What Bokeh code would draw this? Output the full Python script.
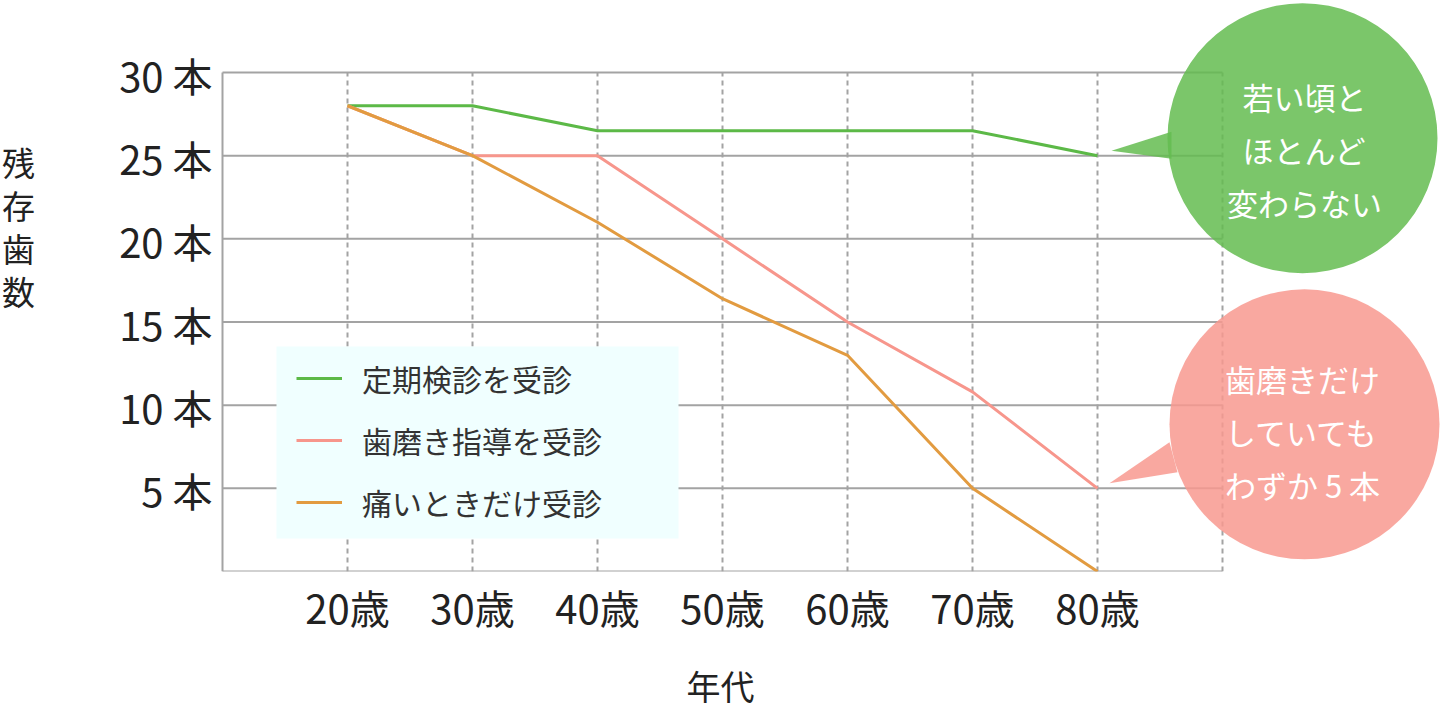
from bokeh.plotting import figure
from bokeh.models import Range1d, FixedTicker, Legend, LegendItem, BoxAnnotation
from bokeh.core.properties import value
from bokeh.embed import file_html
from bokeh.resources import INLINE

# ---------------- data ----------------
ages = [20, 30, 40, 50, 60, 70, 80]
age_labels = ["20歳", "30歳", "40歳", "50歳", "60歳", "70歳", "80歳"]
series_names = ["定期検診を受診", "歯磨き指導を受診", "痛いときだけ受診"]
regular_checkup = [28, 28, 26.5, 26.5, 26.5, 26.5, 25]
brushing_guidance = [28, 25, 25, 20, 15, 10.8, 5]
pain_only = [28, 25, 21, 16.4, 13, 5, 0]
y_ticks = [5, 10, 15, 20, 25, 30]
y_tick_labels = ["5 本", "10 本", "15 本", "20 本", "25 本", "30 本"]
y_title = "残存歯数"
x_title = "年代"
bubble_texts = ["若い頃と\nほとんど\n変わらない", "歯磨きだけ\nしていても\nわずか 5 本"]

# ---------------- layout ----------------
W, H = 1440, 710
GRID_LEFT_PX = 222          # pixel position of the grid box's left edge
BOTTOM = 139                # height of the x-axis panel
FRAME_H = H - BOTTOM
X_MIN, X_MAX = 10, 90       # grid box span (decades)
Y_MIN, Y_MAX = 0, 30
PX_X = 1000 / (X_MAX - X_MIN)   # px per data unit
PX_Y = 499 / (Y_MAX - Y_MIN)

FONT = "Noto Sans CJK JP"
GRID = "#a3a3a3"
TXT = "#222222"
colors = ["#5cb947", "#f7968c", "#e29b40"]
bubble_colors = ["#64bc50", "#f8998f"]

x_start = X_MIN - GRID_LEFT_PX / PX_X
x_end = X_MIN + (W - GRID_LEFT_PX) / PX_X
y_end = Y_MIN + FRAME_H / PX_Y

p = figure(frame_width=W, frame_height=FRAME_H, output_backend="svg", toolbar_location=None,
           x_range=Range1d(x_start, x_end), y_range=Range1d(Y_MIN, y_end),
           y_axis_location=None,
           min_border_left=0, min_border_right=0, min_border_top=0,
           min_border_bottom=BOTTOM, background_fill_color="white",
           border_fill_color="white", outline_line_color=None)
p.xgrid.visible = False
p.ygrid.visible = False


def px2x(px):
    return X_MIN + (px - GRID_LEFT_PX) / PX_X


def px2y(py):
    return Y_MIN + (FRAME_H - py) / PX_Y


# grid box
hlines = [Y_MIN] + y_ticks
p.segment(x0=[X_MIN] * len(hlines), x1=[X_MAX] * len(hlines), y0=hlines, y1=hlines,
          line_color=GRID, line_width=2)
p.segment(x0=[X_MIN], x1=[X_MIN], y0=[Y_MIN], y1=[Y_MAX], line_color=GRID, line_width=2)
vlines = ages + [X_MAX]
p.segment(x0=vlines, x1=vlines, y0=[Y_MIN] * len(vlines), y1=[Y_MAX] * len(vlines),
          line_color=GRID, line_width=2, line_dash="5 4")

# y tick labels and y title (left of the grid box)
p.text(x=[X_MIN] * len(y_ticks), y=y_ticks, text=y_tick_labels, x_offset=-10, y_offset=2,
       text_align="right", text_baseline="middle", text_font=value(FONT),
       text_font_size="40px", text_color=TXT)
p.text(x=[X_MIN], y=[px2y(226)], text=["\n".join(y_title)], x_offset=-204,
       text_align="center", text_baseline="middle", text_font=value(FONT),
       text_font_size="33px", text_color=TXT, text_line_height=0.9)

# legend background
p.add_layout(BoxAnnotation(left=px2x(276), right=px2x(678), top=px2y(346), bottom=px2y(538),
                           fill_color="#f0ffff", fill_alpha=1, line_color=None))

# series
renderers = []
for vals, c in zip([regular_checkup, brushing_guidance, pain_only], colors):
    r = p.line(ages, vals, line_color=c, line_width=3)
    renderers.append(r)


# speech bubbles
def off(x, y, dx, dy):
    return x + dx / PX_X, y + dy / PX_Y


anchors = [(ages[-1], regular_checkup[-1]), (ages[-1], brushing_guidance[-1])]
tails = [[(14, 5), (74, 24), (74, -3)], [(12, 5), (72, 46), (80, 16)]]
centers = [(205, 17.5), (207, 64)]
text_centers = [(207, 6), (205, 57)]
for (ax, ay), tail, cen, tc, bc, txt in zip(anchors, tails, centers, text_centers,
                                             bubble_colors, bubble_texts):
    pts = [off(ax, ay, dx, dy) for dx, dy in tail]
    p.patch([q[0] for q in pts], [q[1] for q in pts], fill_color=bc, fill_alpha=0.85,
            line_color=None)
    cx, cy = off(ax, ay, *cen)
    p.scatter([cx], [cy], size=270, marker="circle", fill_color=bc, fill_alpha=0.85,
              line_color=None)
    tx, ty = off(ax, ay, *tc)
    p.text([tx], [ty], text=[txt], text_color="white", text_font=value(FONT),
           text_font_size="31px", text_align="center", text_baseline="middle",
           text_line_height=1.18)

# x axis
p.xaxis.ticker = FixedTicker(ticks=ages)
p.xaxis.major_label_overrides = {a: l for a, l in zip(ages, age_labels)}
p.xaxis.axis_line_color = None
p.xaxis.major_tick_line_color = None
p.xaxis.minor_tick_line_color = None
p.xaxis.major_tick_in = 0
p.xaxis.major_tick_out = 0
p.xaxis.major_label_standoff = 6
p.xaxis.major_label_text_font = FONT
p.xaxis.major_label_text_font_size = "40px"
p.xaxis.major_label_text_color = TXT
p.xaxis.axis_label = x_title
p.xaxis.axis_label_text_font = FONT
p.xaxis.axis_label_text_font_size = "34px"
p.xaxis.axis_label_text_font_style = "normal"
p.xaxis.axis_label_text_color = TXT
p.xaxis.axis_label_standoff = 22

# legend
legend = Legend(items=[LegendItem(label=n, renderers=[r]) for n, r in zip(series_names, renderers)],
                location=(296, 47), padding=0, margin=0, glyph_width=46, glyph_height=42,
                label_height=42, label_standoff=20, spacing=18,
                background_fill_alpha=0, border_line_color=None, label_text_font=FONT,
                label_text_font_size="30px", label_text_color="#333333")
p.add_layout(legend, "center")

open("out.html", "w").write(file_html(p, INLINE))
